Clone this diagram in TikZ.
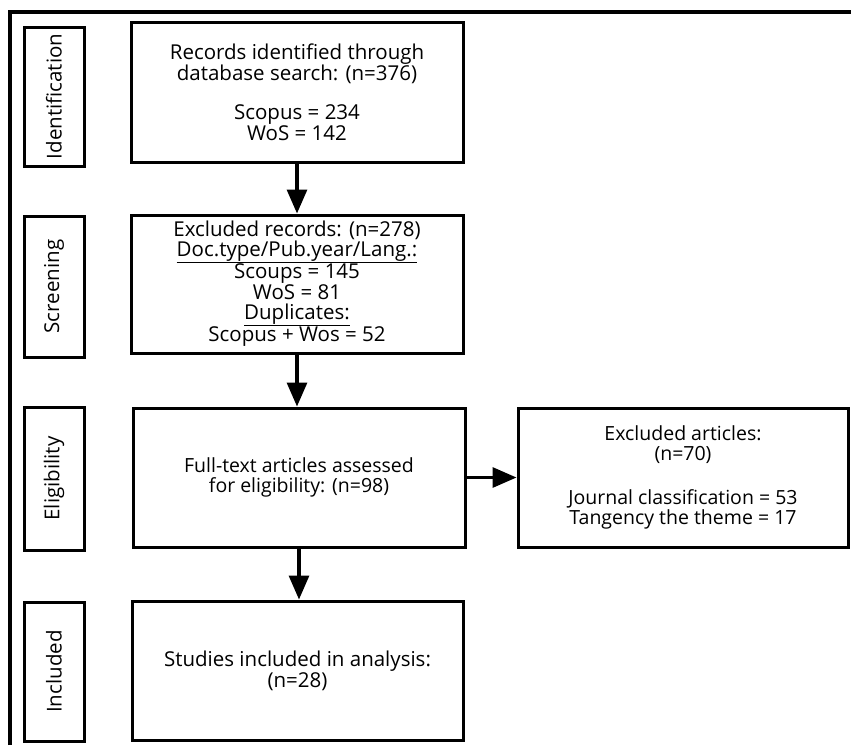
\documentclass[tikz,border=0pt]{standalone}
\usepackage{fontspec}
\setmainfont{Open Sans}
\usetikzlibrary{arrows.meta, positioning}
\tikzset{
  font=\fontsize{20.5}{19.5}\selectfont,     % box text
  stage/.style   = {rectangle, draw, line width=3pt, rotate=90,
                    minimum height=60pt, inner sep=0pt,
                    font=\fontsize{20.5}{20}\selectfont},
  process/.style = {rectangle, draw, line width=3pt, align=center,
                    minimum width=332pt, minimum height=139pt, inner sep=2pt},
  smalltext/.style = {font=\fontsize{19.5}{19.5}\selectfont},
  arrow/.style   = {-{Triangle[length=24pt, width=20pt]}, line width=3.2pt}
}
\begin{document}
\begin{tikzpicture}[x=1pt, y=-1pt]
  \useasboundingbox (0,0) rectangle (851,745);
  % frame
  \draw[line width=3.2pt] (10,745) -- (10,12) -- (851,12);
  % phases
  \node[stage, minimum width=139pt] (idlab)  at (54,96.5)  {Identification};
  \node[stage, minimum width=141pt] (scrlab) at (54,286.5) {Screening};
  \node[stage, minimum width=143pt] (elilab) at (54,478.5) {Eligibility};
  \node[stage, minimum width=139pt] (inclab) at (54,671.5) {Included};
  % boxes
  \node[process, minimum height=140pt] (rec) at (297,92)
    {Records identified through\\database search: (n=376)\\[19pt]Scopus = 234\\WoS = 142};
  \node[process, minimum height=138pt] (scr) at (297,284)
    {Excluded records: (n=278)\\\underline{Doc.type/Pub.year/Lang.:}\\Scoups = 145\\WoS = 81\\\underline{Duplicates:}\\Scopus + Wos = 52};
  \node[process, smalltext] (full) at (299,477.5)
    {Full-text articles assessed\\for eligibility: (n=98)};
  \node[process, smalltext, minimum width=330pt] (excl) at (683,477.5)
    {Excluded articles:\\(n=70)\\[25pt]Journal classification = 53\\Tangency the theme = 17};
  \node[process, minimum width=331pt] (incl) at (297.5,670.5)
    {Studies included in analysis:\\(n=28)};
  % arrows
  \draw[arrow] (rec) -- (scr);
  \draw[arrow] (scr.south) -- (scr.south |- full.north);
  \draw[arrow] (full) -- (excl);
  \draw[arrow] (full.south) -- (full.south |- incl.north);
\end{tikzpicture}
\end{document}
